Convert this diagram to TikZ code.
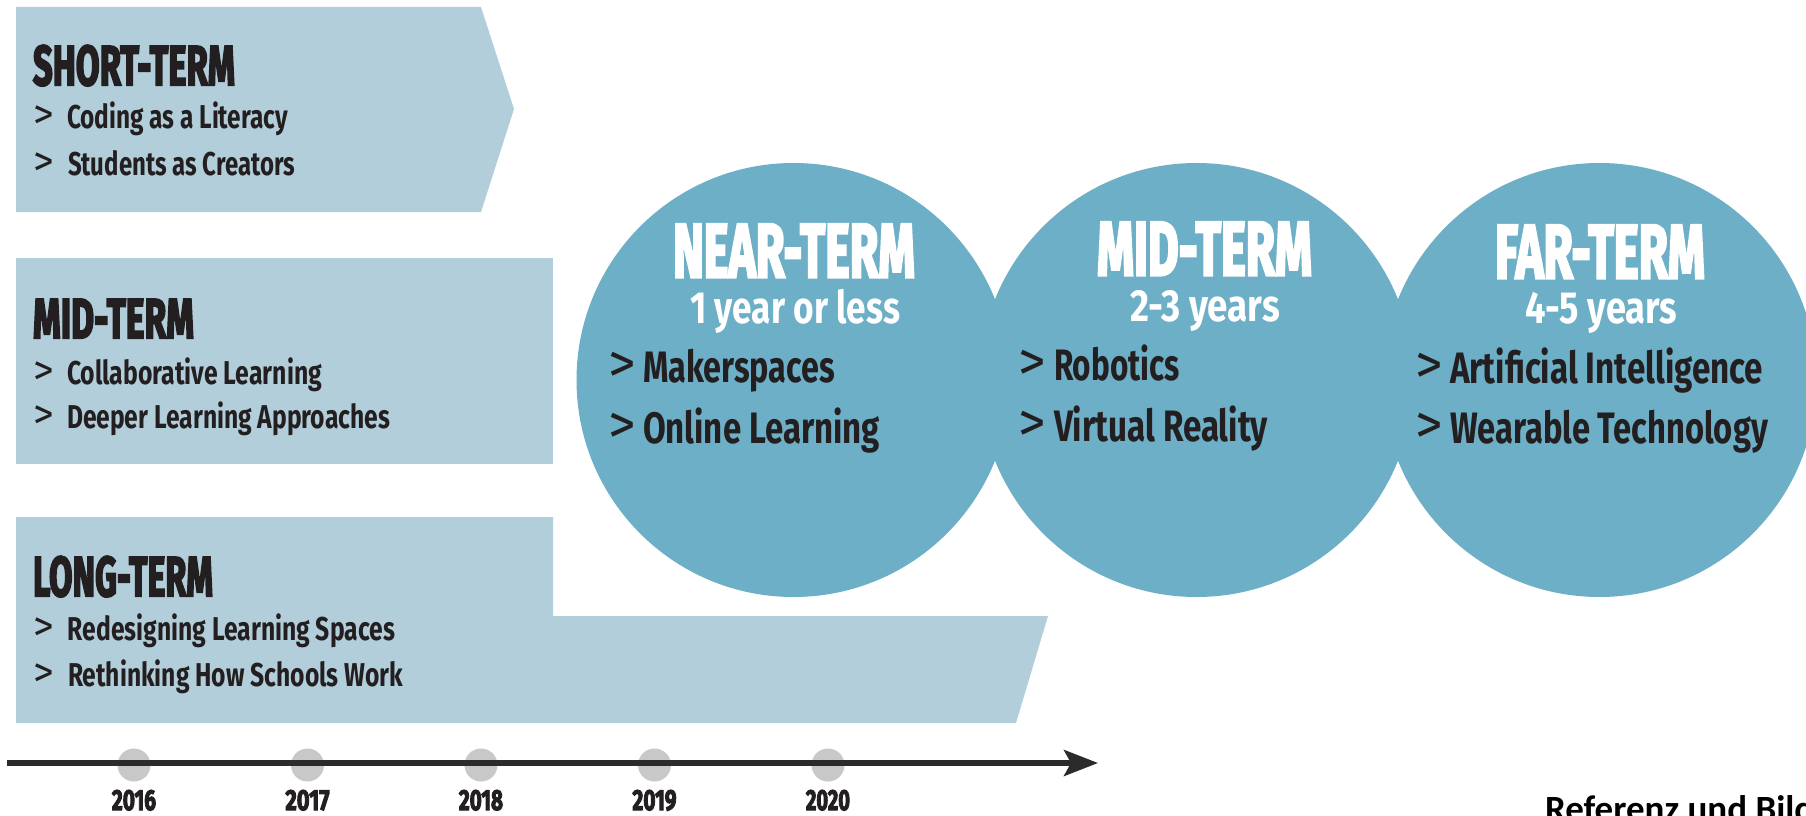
\documentclass[tikz,border=0pt]{standalone}
\usepackage{fontspec}
\usepackage{graphicx}
\usetikzlibrary{arrows.meta}
\setmainfont{Fira Sans}
\newfontfamily\heavyfam{Fira Sans}[FakeBold=4]
\newfontfamily\reffam{Carlito}
\definecolor{boxblue}{HTML}{B2CEDA}
\definecolor{circblue}{HTML}{6CAFC6}
\definecolor{dotgray}{HTML}{C8C8C8}
\definecolor{ink}{HTML}{231F20}
\definecolor{linegray}{HTML}{2B2B2B}
\newcommand{\hw}[2]{\resizebox{#1pt}{\height}{#2}}
\newcommand{\lhead}{\heavyfam\bfseries\fontsize{56}{56}\selectfont\color{ink}}
\newcommand{\litem}{\bfseries\fontsize{33}{33}\selectfont\color{ink}}
\newcommand{\chead}{\heavyfam\bfseries\fontsize{76}{76}\selectfont\color{white}}
\newcommand{\csub}{\bfseries\fontsize{45}{45}\selectfont\color{white}}
\newcommand{\citem}{\bfseries\fontsize{44}{44}\selectfont\color{ink}}
\newcommand{\yrf}{\heavyfam\bfseries\fontsize{29}{29}\selectfont\color{ink}}
\newcommand{\gt}[1]{\makebox[#1pt][l]{\mdseries\scalebox{1.25}{>}}}
\tikzset{
  txt/.style={anchor=base west, inner sep=0pt, outer sep=0pt},
  ctxt/.style={anchor=base, inner sep=0pt, outer sep=0pt},
  termbox/.style={fill=boxblue, draw=none},
  termcircle/.style={circle, fill=circblue, draw=none, minimum size=434pt, inner sep=0pt},
  yeardot/.style={circle, fill=dotgray, draw=none, minimum size=33pt, inner sep=0pt},
  timeline/.style={line width=5.5pt, draw=linegray, -{Stealth[length=34pt,width=26pt,inset=7pt]}},
}
\begin{document}
\begin{tikzpicture}[x=1pt,y=-1pt]
\useasboundingbox (0,0) rectangle (1806,816);
\clip (0,0) rectangle (1806,816);
\fill[white] (0,0) rectangle (1806,816);

% left boxes
\path[termbox] (16,7) -- (481,7) -- (514,109) -- (481,212) -- (16,212) -- cycle;
\path[termbox] (16,258) rectangle (553,464);
\path[termbox] (16,517) -- (553,517) -- (553,616) -- (1048,616) -- (1016,723) -- (16,723) -- cycle;

\node[txt] (sthead) at (33,85) {\lhead\hw{202}{SHORT-TERM}};
\node[txt] (st1) at (33,128) {\litem\gt{34}\hw{221}{Coding as a Literacy}};
\node[txt] (st2) at (33,175) {\litem\gt{35}\hw{227}{Students as Creators}};

\node[txt] (mthead) at (33,338) {\lhead\hw{161}{MID-TERM}};
\node[txt] (mt1) at (33,384) {\litem\gt{34}\hw{255}{Collaborative Learning}};
\node[txt] (mt2) at (33,428) {\litem\gt{34}\hw{323}{Deeper Learning Approaches}};

\node[txt] (lthead) at (33,596) {\lhead\hw{180}{LONG-TERM}};
\node[txt] (lt1) at (33,640) {\litem\gt{35}\hw{327}{Redesigning Learning Spaces}};
\node[txt] (lt2) at (33,686) {\litem\gt{35}\hw{335}{Rethinking How Schools Work}};

% circles
\node[termcircle] (near) at (793.5,380) {};
\node[termcircle] (mid) at (1196.5,380) {};
\node[termcircle] (far) at (1599.5,380) {};

\node[txt] (nearh) at (673,277) {\chead\hw{242}{NEAR-TERM}};
\node[txt] (nears) at (690,323) {\csub\hw{210}{1 year or less}};
\node[txt] (near1) at (608,382) {\citem\gt{35}\hw{192}{Makerspaces}};
\node[txt] (near2) at (608,443) {\citem\gt{35}\hw{237}{Online Learning}};

\node[txt] (midh) at (1097,275) {\chead\hw{215}{MID-TERM}};
\node[txt] (mids) at (1130,321) {\csub\hw{150}{2-3 years}};
\node[txt] (mid1) at (1018,380) {\citem\gt{36}\hw{126}{Robotics}};
\node[txt] (mid2) at (1018,441) {\citem\gt{36}\hw{214}{Virtual Reality}};

\node[txt] (farh) at (1495,278) {\chead\hw{210}{FAR-TERM}};
\node[txt] (fars) at (1525,323) {\csub\hw{152}{4-5 years}};
\node[txt] (far1) at (1415,383) {\citem\gt{35}\hw{313}{Artificial Intelligence}};
\node[txt] (far2) at (1415,443) {\citem\gt{35}\hw{318}{Wearable Technology}};

% timeline
\node[yeardot] (d16) at (134,765) {};
\node[yeardot] (d17) at (307.5,765) {};
\node[yeardot] (d18) at (481,765) {};
\node[yeardot] (d19) at (654.5,765) {};
\node[yeardot] (d20) at (828,765) {};
\coordinate (tls) at (7,763);
\coordinate (tle) at (1098,763);
\draw[timeline] (tls) -- (tle);

\node[ctxt] (y16) at (134,810) {\yrf\hw{44}{2016}};
\node[ctxt] (y17) at (307.5,810) {\yrf\hw{44}{2017}};
\node[ctxt] (y18) at (481,810) {\yrf\hw{44}{2018}};
\node[ctxt] (y19) at (654.5,810) {\yrf\hw{44}{2019}};
\node[ctxt] (y20) at (828,810) {\yrf\hw{44}{2020}};

\node[txt] (ref) at (1545,821) {\reffam\bfseries\fontsize{37}{37}\selectfont Referenz und Bild};
\end{tikzpicture}
\end{document}
